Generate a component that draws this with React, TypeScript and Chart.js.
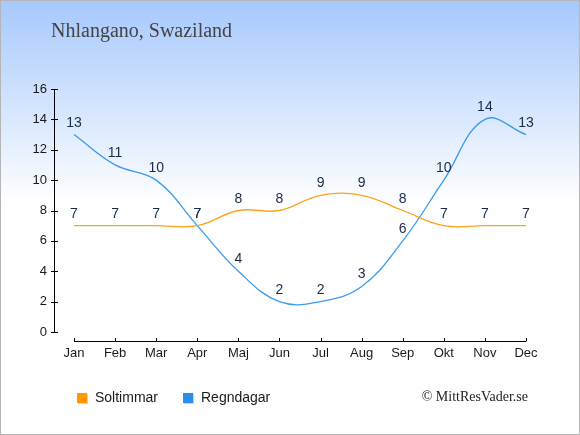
import React, { useEffect, useRef } from "react";
import { Chart, registerables } from "chart.js";

Chart.register(...registerables);

const months = ["Jan", "Feb", "Mar", "Apr", "Maj", "Jun", "Jul", "Aug", "Sep", "Okt", "Nov", "Dec"];
const sunHours = [7, 7, 7, 7, 8, 8, 9, 9, 8, 7, 7, 7];
const rainDays = [13, 11, 10, 7, 4, 2, 2, 3, 6, 10, 14, 13];
const yTicks = [0, 2, 4, 6, 8, 10, 12, 14, 16];

const seriesNames = ["Soltimmar", "Regndagar"];
const lineColors = ["#ffa31f", "#3a9bf0"];
const legendColors = ["#ff9900", "#2b8fe8"];

const sans = '"Liberation Sans", Arial, sans-serif';
const serif = '"Liberation Serif", "Times New Roman", serif';

const decor = {
  id: "decor",
  beforeDraw(chart: any) {
    const { ctx, width, height } = chart;
    ctx.save();
    const g = ctx.createLinearGradient(0, 0, 0, height);
    g.addColorStop(0, "#a6c8fd");
    g.addColorStop(0.47, "#ffffff");
    g.addColorStop(1, "#ffffff");
    ctx.fillStyle = g;
    ctx.fillRect(0, 0, width, height);
    ctx.restore();
  },
  afterDatasetsDraw(chart: any) {
    const { ctx, scales } = chart;
    const x = scales.x;
    const y = scales.y;
    ctx.save();

    // y axis, set off to the left of the plot
    const yAxisX = 54.5;
    ctx.strokeStyle = "#000";
    ctx.lineWidth = 1;
    ctx.beginPath();
    ctx.moveTo(yAxisX, y.getPixelForValue(16));
    ctx.lineTo(yAxisX, y.getPixelForValue(0));
    yTicks.forEach((v) => {
      const py = Math.round(y.getPixelForValue(v)) + 0.5;
      ctx.moveTo(51, py);
      ctx.lineTo(58, py);
    });
    ctx.stroke();

    ctx.fillStyle = "#1a1a1a";
    ctx.font = `13px ${sans}`;
    ctx.textAlign = "right";
    ctx.textBaseline = "middle";
    yTicks.forEach((v) => ctx.fillText(String(v), 47, y.getPixelForValue(v)));

    // x axis, set off below the plot
    const xAxisY = 341.5;
    ctx.beginPath();
    ctx.moveTo(x.getPixelForValue(0), xAxisY);
    ctx.lineTo(x.getPixelForValue(months.length - 1), xAxisY);
    months.forEach((_, i) => {
      const px = Math.round(x.getPixelForValue(i)) + 0.5;
      ctx.moveTo(px, 338);
      ctx.lineTo(px, xAxisY);
    });
    ctx.stroke();

    ctx.textAlign = "center";
    months.forEach((m, i) => ctx.fillText(m, x.getPixelForValue(i), 353));

    // value labels
    ctx.fillStyle = "#1c2b48";
    ctx.font = `14px ${sans}`;
    ctx.textBaseline = "alphabetic";
    chart.data.datasets.forEach((ds: any, di: number) => {
      chart.getDatasetMeta(di).data.forEach((pt: any, i: number) => {
        ctx.fillText(String(ds.data[i]), pt.x, pt.y - 8);
      });
    });

    // title
    ctx.fillStyle = "#444";
    ctx.font = `20px ${serif}`;
    ctx.textAlign = "left";
    ctx.textBaseline = "middle";
    ctx.fillText("Nhlangano, Swaziland", 51, 32);

    // legend
    ctx.font = `14px ${sans}`;
    const legendX = [77, 183];
    seriesNames.forEach((name, i) => {
      const lx = legendX[i];
      ctx.fillStyle = "rgba(0,0,0,0.18)";
      ctx.fillRect(lx + 1, 394, 10, 10);
      ctx.fillStyle = legendColors[i];
      ctx.fillRect(lx, 393, 10, 10);
      ctx.fillStyle = "#1a1a1a";
      ctx.fillText(name, lx + 18, 398);
    });

    // credit
    ctx.font = `14px ${serif}`;
    ctx.textAlign = "right";
    ctx.fillStyle = "#222";
    ctx.fillText("\u00a9 MittResVader.se", 528, 397);

    // frame
    ctx.strokeStyle = "#b5b5b5";
    ctx.strokeRect(0.5, 0.5, chart.width - 1, chart.height - 1);
    ctx.restore();
  },
};

export default function App() {
  const canvasRef = useRef<HTMLCanvasElement | null>(null);
  const chartRef = useRef<Chart | null>(null);

  useEffect(() => {
    document.body.style.margin = "0";
    if (!canvasRef.current) return;
    if (chartRef.current) chartRef.current.destroy();

    chartRef.current = new Chart(canvasRef.current, {
      type: "line",
      data: {
        labels: months,
        datasets: [sunHours, rainDays].map((d, i) => ({
          label: seriesNames[i],
          data: d,
          borderColor: lineColors[i],
          borderWidth: 1.3,
          tension: 0.4,
          pointRadius: 0,
          fill: false,
          clip: false as any,
        })),
      },
      options: {
        responsive: false,
        animation: false,
        layout: { padding: { left: 74, right: 54, top: 89, bottom: 103 } },
        scales: {
          x: { display: false, offset: false },
          y: { display: false, min: 0, max: 16 },
        },
        plugins: {
          legend: { display: false },
          title: { display: false },
          tooltip: { enabled: false },
        },
      },
      plugins: [decor],
    });

    return () => {
      chartRef.current?.destroy();
      chartRef.current = null;
    };
  }, []);

  return (
    <div style={{ width: 580, height: 435 }}>
      <canvas ref={canvasRef} width={580} height={435} />
    </div>
  );
}
